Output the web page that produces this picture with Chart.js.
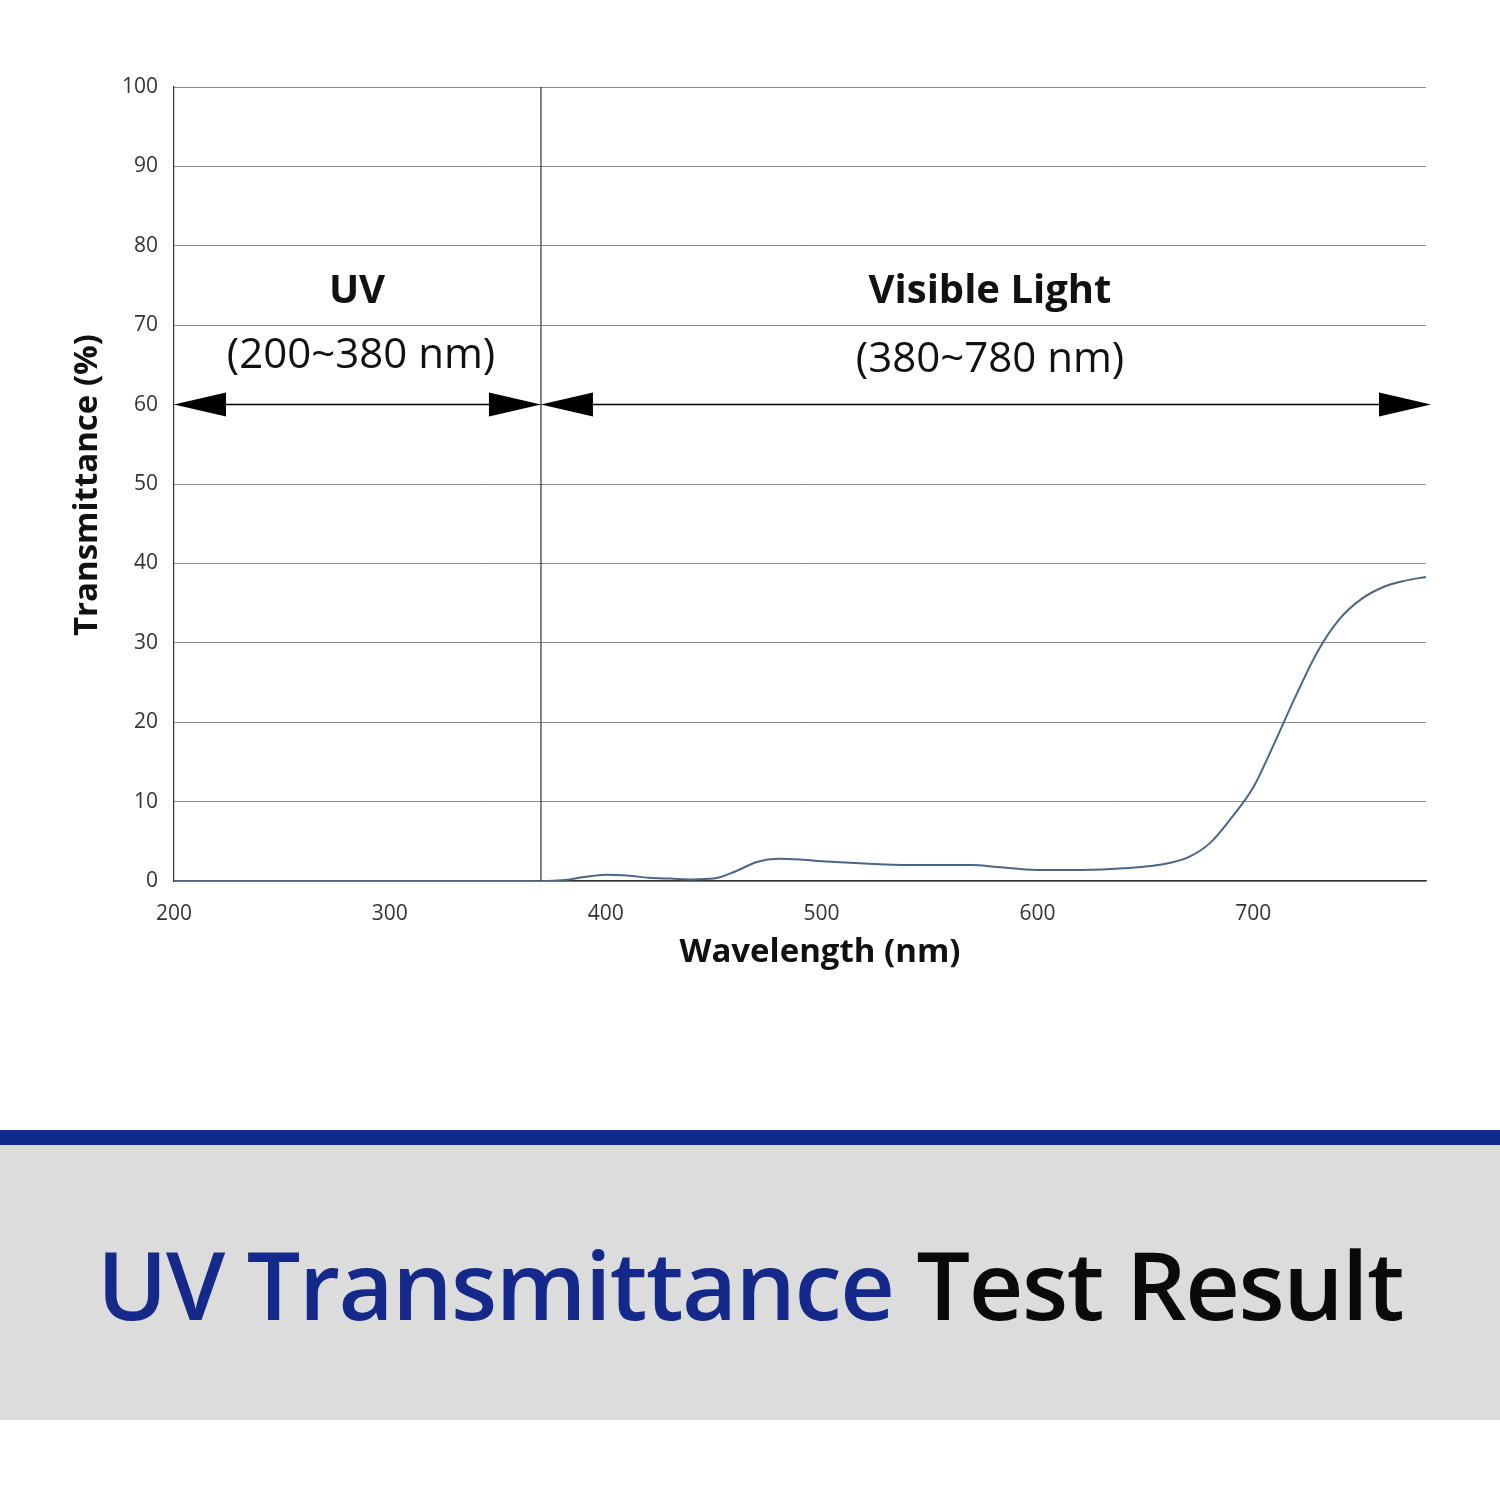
<!DOCTYPE html>
<html>
<head>
<meta charset="utf-8">
<script src="https://cdn.jsdelivr.net/npm/chart.js@4/dist/chart.umd.min.js"></script>
<style>
  body { margin: 0; width: 1500px; height: 1500px; background: #fff; position: relative; overflow: hidden; font-family: "Open Sans", "Noto Sans", sans-serif; }
  #wrap { position: absolute; left: 0; top: 0; width: 1500px; height: 1000px; }
  #band { position: absolute; left: 0; top: 1130px; width: 1500px; height: 15px; background: #0f2b8c; }
  #banner { position: absolute; left: 0; top: 1145px; width: 1500px; height: 275px; background: #dcdcdc;
    display: flex; align-items: center; justify-content: center; font-size: 95px; font-weight: 600; letter-spacing: -1.5px; }
  #banner .blue { color: #14298a; }
  #banner .black { color: #0a0a0a; }
</style>
</head>
<body>
<div id="wrap"><canvas id="c" width="1500" height="1000"></canvas></div>
<div id="band"></div>
<div id="banner"><span class="blue">UV Transmittance</span>&nbsp;<span class="black">Test Result</span></div>
<script>
// values
const wavelength = [200, 250, 300, 350, 370, 380, 390, 400, 410, 420, 430, 440, 450, 460, 470, 480, 490, 500,
  520, 540, 560, 570, 580, 600, 620, 640, 660, 670, 680, 690, 700, 710, 720, 730, 740, 750, 760, 770, 780];
const transmittance = [0, 0, 0, 0, 0, 0.1, 0.5, 0.8, 0.7, 0.4, 0.3, 0.2, 0.3, 1.2, 2.4, 2.8, 2.7, 2.5,
  2.2, 2.0, 2.0, 2.0, 1.8, 1.4, 1.4, 1.6, 2.2, 3.0, 4.8, 8.0, 11.8, 17.5, 23.5, 29.0, 33.0, 35.5, 37.0, 37.8, 38.3];
const uvBoundary = 370;
const arrowY = 60;

const overlay = {
  id: 'overlay',
  afterDraw(chart) {
    const { ctx, scales: { x, y }, chartArea } = chart;
    ctx.save();
    // UV / visible divider
    ctx.strokeStyle = '#333';
    ctx.lineWidth = 1.2;
    const xb = x.getPixelForValue(uvBoundary);
    ctx.beginPath(); ctx.moveTo(xb, chartArea.top); ctx.lineTo(xb, chartArea.bottom); ctx.stroke();

    const ay = y.getPixelForValue(arrowY);
    function arrow(x1, x2) {
      ctx.strokeStyle = '#000'; ctx.fillStyle = '#000'; ctx.lineWidth = 1.5;
      ctx.beginPath(); ctx.moveTo(x1 + 20, ay); ctx.lineTo(x2 - 20, ay); ctx.stroke();
      ctx.beginPath(); ctx.moveTo(x1, ay); ctx.lineTo(x1 + 52, ay - 12); ctx.lineTo(x1 + 52, ay + 12); ctx.fill();
      ctx.beginPath(); ctx.moveTo(x2, ay); ctx.lineTo(x2 - 52, ay - 12); ctx.lineTo(x2 - 52, ay + 12); ctx.fill();
    }
    arrow(chartArea.left, xb);
    arrow(xb, chartArea.right + 5);

    ctx.fillStyle = '#111';
    ctx.textAlign = 'center'; ctx.textBaseline = 'middle';
    ctx.font = 'bold 40px "Open Sans"';
    ctx.fillText('UV', 357, 292);
    ctx.fillText('Visible Light', 990, 292);
    ctx.font = '42px "Open Sans"';
    ctx.fillText('(200~380 nm)', 361, 356);
    ctx.fillText('(380~780 nm)', 990, 360);

    // axis titles
    ctx.font = 'bold 33px "Open Sans"';
    ctx.fillText('Wavelength (nm)', 820, 953);
    ctx.translate(88, 485);
    ctx.rotate(-Math.PI / 2);
    ctx.fillText('Transmittance (%)', 0, 0);
    ctx.restore();
  }
};

new Chart(document.getElementById('c'), {
  type: 'line',
  data: {
    datasets: [{
      data: wavelength.map((w, i) => ({ x: w, y: transmittance[i] })),
      borderColor: '#4a6687',
      borderWidth: 2,
      pointRadius: 0,
      tension: 0.4,
      cubicInterpolationMode: 'monotone'
    }]
  },
  options: {
    responsive: false,
    animation: false,
    layout: { padding: { left: 0, right: 74, top: 87, bottom: 0 } },
    plugins: { legend: { display: false }, tooltip: { enabled: false } },
    scales: {
      x: {
        type: 'linear', min: 200, max: 780,
        grid: { display: false },
        border: { color: '#333', width: 1.2 },
        afterFit(s) { s.height = 119; },
        ticks: {
          stepSize: 100, padding: 12, color: '#333', font: { family: 'Open Sans', size: 21 },
          callback: v => (v % 100 === 0 ? v : '')
        }
      },
      y: {
        min: 0, max: 100,
        grid: { color: '#8a8a8a', lineWidth: 1, drawTicks: false },
        border: { color: '#333', width: 1.2 },
        afterFit(s) { s.width = 174; },
        ticks: { stepSize: 10, padding: 16, color: '#333', font: { family: 'Open Sans', size: 21 } }
      }
    }
  },
  plugins: [overlay]
});
</script>
</body>
</html>
